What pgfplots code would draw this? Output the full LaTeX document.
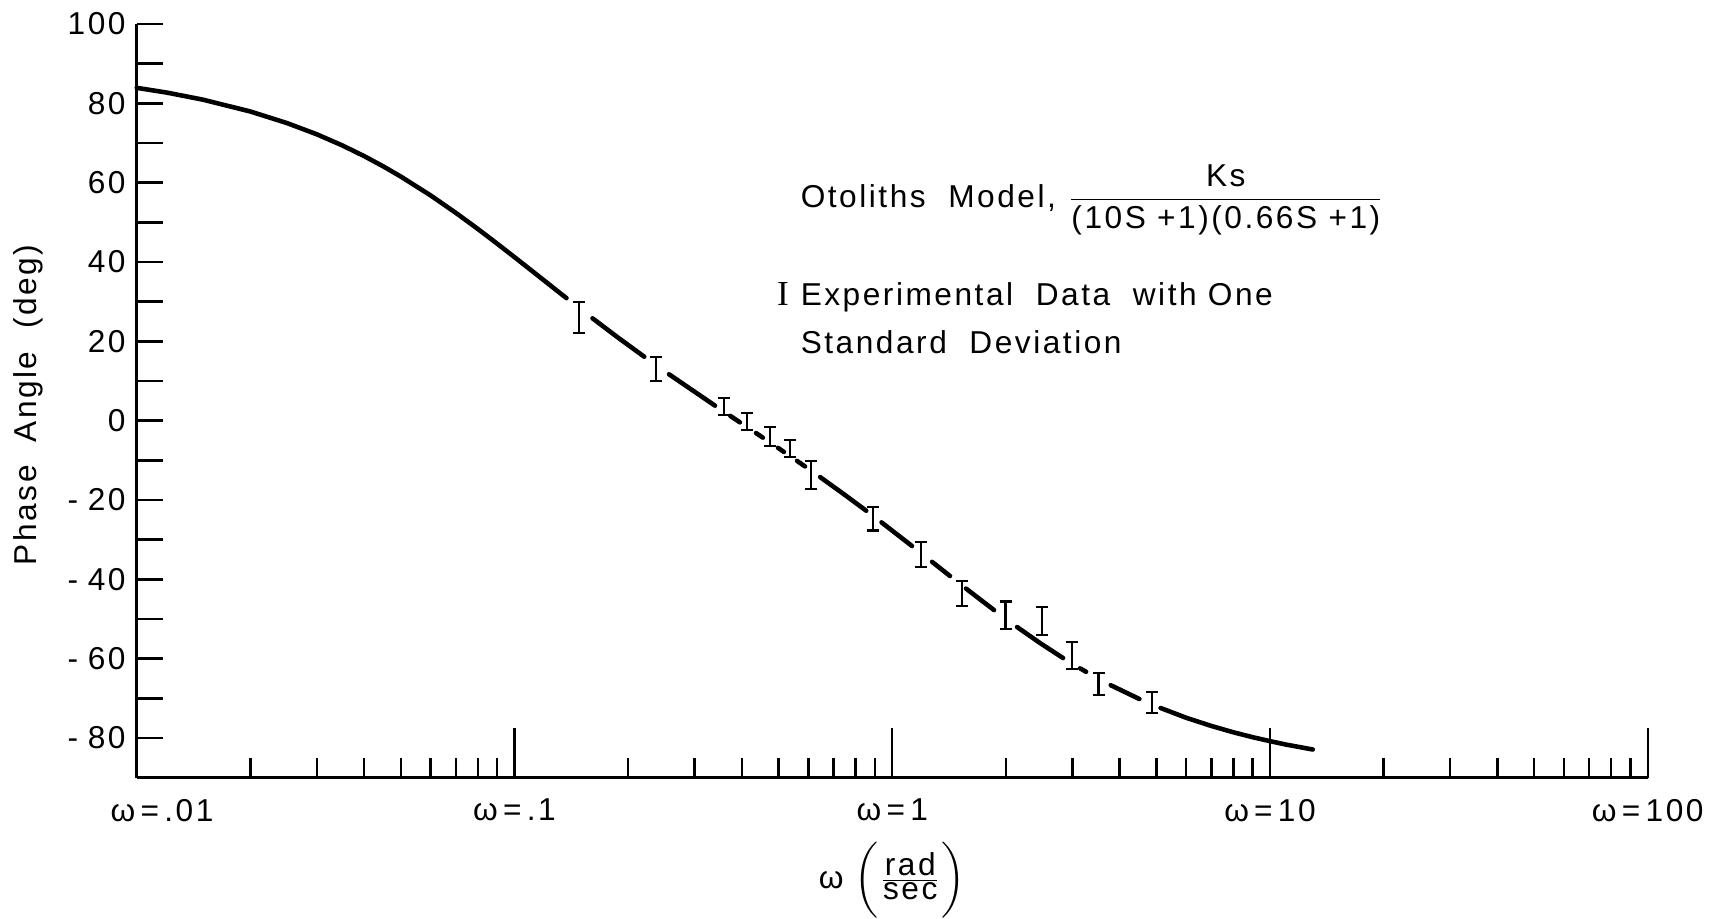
\documentclass[border=0pt]{standalone}
\usepackage{amsmath}
\usepackage{pgfplots}
\pgfplotsset{compat=1.18}
\usepackage{fontspec}
\setmainfont{Liberation Sans}[LetterSpace=8]
\newfontfamily\serifI{Liberation Serif}
\begin{document}
\fontsize{9}{11}\selectfont
\begin{tikzpicture}
\begin{axis}[
  scale only axis, width=151.1mm, height=75.37mm,
  xmode=log, xmin=0.01, xmax=100, ymin=-90, ymax=100,
  axis x line=bottom, axis y line=left,
  axis line style={-, line width=0.9pt},
  tick align=inside, major tick length=2.6mm, minor tick length=2mm,
  tick style={line width=0.7pt, black},
  xtick={0.01,0.1,1,10,100},
  xticklabels={{\hspace*{1.6em}ω\,=\,.01}, {ω\,=\,.1}, {ω\,=\,1}, {ω\,=\,10}, {ω\,=\,100}},
  minor xtick={0.02,0.03,0.04,0.05,0.06,0.07,0.08,0.09,
               0.2,0.3,0.4,0.5,0.6,0.7,0.8,0.9,
               2,3,4,5,6,7,8,9,20,30,40,50,60,70,80,90},
  ytick={-80,-70,...,100},
  yticklabels={{-\hspace{0.3em}80},{},{-\hspace{0.3em}60},{},{-\hspace{0.3em}40},{},{-\hspace{0.3em}20},{},
               0,{},20,{},40,{},60,{},80,{},100},
  xticklabel style={yshift=-1mm},
  ylabel={Phase\ \ Angle\ \ (deg)},
  ylabel style={at={(axis description cs:-0.0719,0.4945)}, anchor=center},
  xlabel={ω\ $\biggl(\frac{\mbox{rad}}{\mbox{sec}}\biggr)$},
  xlabel style={at={(axis description cs:0.5,-0.1365)}, anchor=center, inner sep=0pt},
  clip=false,
]
% theoretical curve, broken around the data points
\addplot[black, line width=1.3pt, line cap=round, mark=none, unbounded coords=jump]
  coordinates {
  (0.01,83.9) (0.012,82.71) (0.015,80.9) (0.02,77.93) (0.025,75.01) (0.03,72.17)
  (0.035,69.39) (0.04,66.69) (0.045,64.07) (0.05,61.54) (0.06,56.77) (0.07,52.36)
  (0.08,48.32) (0.09,44.61) (0.1,41.22) (0.11,38.12) (0.12,35.28) (0.13,32.66) (0.1373,30.89)
  (0.15,nan)
  (0.1609,25.80) (0.1879,20.95) (0.2206,16.11)
  (0.24,nan)
  (0.2565,11.69) (0.3396,3.78)
  (0.36,nan)
  (0.3727,1.20) (0.3951,-0.42)
  (0.41,nan)
  (0.4359,-3.13) (0.4544,-4.28)
  (0.47,nan)
  (0.4984,-6.86) (0.5167,-7.88)
  (0.53,nan)
  (0.5598,-10.15) (0.5877,-11.54)
  (0.61,nan)
  (0.6442,-14.22) (0.7412,-18.39) (0.8535,-22.71)
  (0.89,nan)
  (0.9369,-25.64) (1.128,-31.60)
  (1.19,nan)
  (1.275,-35.60) (1.422,-39.16)
  (1.52,nan)
  (1.568,-42.33) (1.860,-47.75)
  (2.0,nan)
  (2.140,-52.02) (2.462,-56.06) (2.833,-59.84)
  (2.99,nan)
  (3.143,-62.44) (3.260,-63.31)
  (3.5,nan)
  (3.788,-66.69) (4.511,-70.17)
  (4.9,nan)
  (5.132,-72.43) (6,-74.90) (7,-76.97) (8,-78.56) (9,-79.80) (10,-80.79) (11,-81.64) (12.98,-82.90)
  };
% experimental data with one standard deviation
\addplot[draw=none, mark=none,
  error bars/.cd, y dir=both, y explicit,
  error bar style={draw=black, line width=0.6pt},
  error mark=-, error mark options={rotate=90, draw=black, mark size=0.6mm, line width=0.6pt}]
  coordinates {
  (0.148,26.1) +- (0,3.9)
  (0.2366,13.1) +- (0,3.0)
  (0.358,3.5) +- (0,2.1)
  (0.412,-0.2) +- (0,2.2)
  (0.474,-4.0) +- (0,2.5)
  (0.535,-7.0) +- (0,2.1)
  (0.611,-13.7) +- (0,3.6)
  (0.889,-24.7) +- (0,3.0)
  (1.189,-33.8) +- (0,3.1)
  (1.526,-43.6) +- (0,3.1)
  (1.995,-49.1) +- (0,3.5)
  (2.489,-50.5) +- (0,3.6)
  (2.986,-59.2) +- (0,3.5)
  (3.516,-66.4) +- (0,2.7)
  (4.875,-71.0) +- (0,2.7)
  };
% long decade ticks
\foreach \d in {0.1,1,10,100}{
  \edef\temp{\noexpand\draw[line width=0.7pt] (axis cs:\d,-90) -- ++(0pt,5mm);}
  \temp
}
\node[anchor=west, inner sep=0pt] at (rel axis cs:0.439,0.766)
  {Otoliths\ \ Model,\ $\dfrac{\mbox{Ks}}{\mbox{(10S\ +1)(0.66S\ +1)}}$};
\node[anchor=west, inner sep=0pt, align=left, font=\fontsize{9}{13.7}\selectfont]
  at (rel axis cs:0.439,0.610)
  {\llap{{\serifI\fontsize{10}{12}\selectfont I}\hspace{1.2mm}}Experimental\ \ Data\ \ with One\\
   Standard\ \ Deviation};
% page frame
\path (rel axis cs:-0.0905,-0.1875) rectangle (rel axis cs:1.0465,1.0318);
\end{axis}
\end{tikzpicture}
\end{document}
